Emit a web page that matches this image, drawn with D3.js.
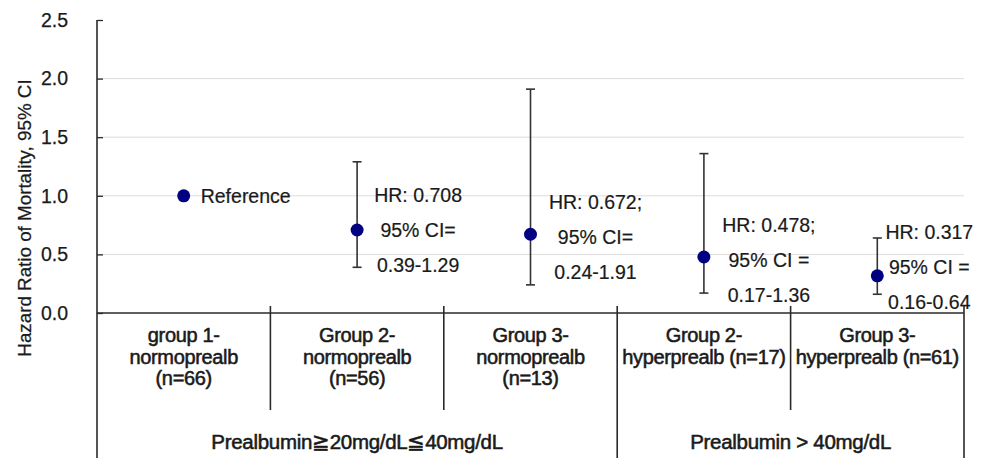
<!DOCTYPE html>
<html>
<head>
<meta charset="utf-8">
<script src="https://cdn.jsdelivr.net/npm/d3@7"></script>
<style>
  html, body { margin: 0; padding: 0; background: #fff; }
  svg { display: block; font-family: "Liberation Sans", Arial, sans-serif; }
</style>
</head>
<body>
<svg id="chart" width="990" height="458"></svg>
<script>
// ---- data ----
const categories = ["g1-normo", "g2-normo", "g3-normo", "g2-hyper", "g3-hyper"];
const categoryLabels = [
  ["group 1-", "normoprealb", "(n=66)"],
  ["Group 2-", "normoprealb", "(n=56)"],
  ["Group 3-", "normoprealb", "(n=13)"],
  ["Group 2-", "hyperprealb (n=17)"],
  ["Group 3-", "hyperprealb (n=61)"]
];
const hazardRatio = [1.0, 0.708, 0.672, 0.478, 0.317];
const ciLow = [null, 0.39, 0.24, 0.17, 0.16];
const ciHigh = [null, 1.29, 1.91, 1.36, 0.64];
const annotations = [
  ["Reference"],
  ["HR: 0.708", "95% CI=", "0.39-1.29"],
  ["HR: 0.672;", "95% CI=", "0.24-1.91"],
  ["HR: 0.478;", "95% CI =", "0.17-1.36"],
  ["HR: 0.317", "95% CI =", "0.16-0.64"]
];
const yTicks = [0.0, 0.5, 1.0, 1.5, 2.0, 2.5];
const yTitle = "Hazard Ratio of Mortality, 95% CI";
const groupLabels = ["Prealbumin\u226720mg/dL\u226640mg/dL", "Prealbumin > 40mg/dL"];
const groupStart = ["g1-normo", "g2-hyper"];
const groupEnd = ["g3-normo", "g3-hyper"];

// ---- layout ----
(function draw() {
const svg = d3.select("#chart");
const pLeft = 97, pRight = 964, pTop = 20, axisY = 313, pBottom = 458;
const x = d3.scaleBand().domain(categories).range([pLeft, pRight]).paddingInner(0).paddingOuter(0);
const y = d3.scaleLinear().domain([0, 2.5]).range([axisY, pTop]);
const ink = "#1a1a1a";
const lineCol = "#2a2a2a";

// gridlines
svg.append("g").selectAll("line").data(yTicks.filter(t => t > 0 && t < 2.5)).join("line")
  .attr("x1", pLeft).attr("x2", pRight)
  .attr("y1", d => y(d)).attr("y2", d => y(d))
  .attr("stroke", "#dcdcdc").attr("stroke-width", 1);

// y axis
const yAxis = d3.axisLeft(y).tickValues(yTicks).tickFormat(d3.format(".1f")).tickSize(-6).tickPadding(29);
const gy = svg.append("g").attr("transform", `translate(${pLeft},0)`).call(yAxis);
gy.select(".domain").remove();
gy.selectAll(".tick line").attr("stroke", lineCol).attr("stroke-width", 1.3);
gy.selectAll(".tick text").attr("fill", ink).attr("font-size", 19.5)
  .attr("font-family", "Liberation Sans, Arial, sans-serif")
  .attr("stroke", ink).attr("stroke-width", 0.25);

// y axis line (runs down to the bottom of the table)
svg.append("line").attr("x1", pLeft).attr("x2", pLeft).attr("y1", pTop).attr("y2", pBottom)
  .attr("stroke", lineCol).attr("stroke-width", 1.6);

// y title
svg.append("text")
  .attr("transform", `translate(24,${(78 + 358) / 2}) rotate(-90)`)
  .attr("text-anchor", "middle").attr("dominant-baseline", "central")
  .attr("font-size", 18.8).attr("fill", ink).attr("stroke", ink).attr("stroke-width", 0.25)
  .text(yTitle);

// x axis line
svg.append("line").attr("x1", pLeft).attr("x2", pRight).attr("y1", axisY).attr("y2", axisY)
  .attr("stroke", lineCol).attr("stroke-width", 1.6);

// category dividers
const boundaries = categories.slice(1).map(c => x(c));
const groupBoundary = groupStart.slice(1).map(c => x(c));
svg.append("g").selectAll("line").data(boundaries).join("line")
  .attr("x1", d => d).attr("x2", d => d)
  .attr("y1", axisY - 7)
  .attr("y2", d => groupBoundary.includes(d) ? pBottom : 410)
  .attr("stroke", lineCol).attr("stroke-width", 1.6);
// right border
svg.append("line").attr("x1", pRight).attr("x2", pRight).attr("y1", axisY - 7).attr("y2", pBottom)
  .attr("stroke", lineCol).attr("stroke-width", 1.6);

// category labels
const lab = svg.append("g");
categories.forEach((c, i) => {
  const t = lab.append("text").attr("text-anchor", "middle")
    .attr("font-size", 20).attr("fill", ink)
    .attr("stroke", ink).attr("stroke-width", 0.55)
    .attr("letter-spacing", -0.35);
  categoryLabels[i].forEach((line, j) => {
    t.append("tspan").attr("x", x(c) + x.bandwidth() / 2).attr("y", 342 + j * 21.5).text(line);
  });
});

// group labels
groupLabels.forEach((g, i) => {
  const x0 = x(groupStart[i]), x1 = x(groupEnd[i]) + x.bandwidth();
  svg.append("text").attr("x", (x0 + x1) / 2).attr("y", 449)
    .attr("text-anchor", "middle").attr("font-size", 20.5)
    .attr("stroke", ink).attr("stroke-width", 0.55)
    .attr("letter-spacing", -0.3)
    .attr("fill", ink).text(g);
});

// error bars
const eb = svg.append("g").attr("stroke", "#333").attr("stroke-width", 1.6);
categories.forEach((c, i) => {
  if (ciLow[i] == null) return;
  const cx = x(c) + x.bandwidth() / 2;
  eb.append("line").attr("x1", cx).attr("x2", cx).attr("y1", y(ciLow[i])).attr("y2", y(ciHigh[i]));
  [ciLow[i], ciHigh[i]].forEach(v => {
    eb.append("line").attr("x1", cx - 4.5).attr("x2", cx + 4.5).attr("y1", y(v)).attr("y2", y(v));
  });
});

// points
svg.append("g").selectAll("circle").data(categories).join("circle")
  .attr("cx", c => x(c) + x.bandwidth() / 2)
  .attr("cy", (c, i) => y(hazardRatio[i]))
  .attr("r", 6.5).attr("fill", "#000080");

// annotations (layout nudges relative to each point)
const labelDx = [17, 61, 65, 65, 52];
const labelDy = [0, 0, 3, 3, -9];
categories.forEach((c, i) => {
  const cx = x(c) + x.bandwidth() / 2, cy = y(hazardRatio[i]);
  const lines = annotations[i];
  const t = svg.append("text").attr("font-size", 19.5).attr("fill", ink)
    .attr("stroke", ink).attr("stroke-width", 0.2)
    .attr("text-anchor", lines.length === 1 ? "start" : "middle");
  lines.forEach((line, j) => {
    const offset = (j - (lines.length - 1) / 2) * 35;
    t.append("tspan").attr("x", cx + labelDx[i]).attr("y", cy + labelDy[i] + offset)
      .attr("dy", "0.35em").text(line);
  });
});
})();
</script>
</body>
</html>
